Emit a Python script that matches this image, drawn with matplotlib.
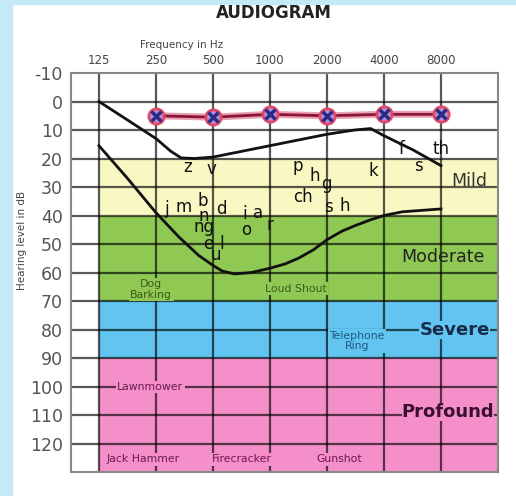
import matplotlib.pyplot as plt
from matplotlib.patches import Rectangle
from matplotlib.ticker import NullLocator

# audiogram axes
freqs = [125, 250, 500, 1000, 2000, 4000, 8000]
freq_labels = ['125', '250', '500', '1000', '2000', '4000', '8000']
db_ticks = [-10, 0, 10, 20, 30, 40, 50, 60, 70, 80, 90, 100, 110, 120]

# hearing loss bands
band_names = ['Mild', 'Moderate', 'Severe', 'Profound']
band_low = [20, 40, 70, 90]
band_high = [40, 70, 90, 130]
band_colors = ['#f9f8c2', '#8fc853', '#62c5f1', '#f58fca']

# measured thresholds
thr_freqs = [250, 500, 1000, 2000, 4000, 8000]
thr_db = [5, 5.5, 4.5, 5, 4.5, 4.5]

# speech banana outline
upper_freqs = [125, 177, 250, 300, 340, 400, 500, 1000, 2000, 2800, 3400, 4000, 5700, 8000]
upper_db = [0, 6.5, 13, 17.5, 19.8, 20, 19.5, 15.5, 11.5, 10, 9.5, 12, 17, 22.5]
lower_freqs = [125, 177, 250, 330, 420, 500, 560, 650, 800, 1000, 1200, 1414, 1700, 2000,
               2400, 2828, 3400, 4000, 5000, 8000]
lower_db = [15.5, 27, 39, 47.5, 54, 57.5, 59.5, 60.5, 60, 58.5, 57, 55, 52, 48.5,
            45.5, 43.5, 41.5, 40, 38.7, 37.7]

# speech sounds
sounds = ['z', 'v', 'j', 'm', 'b', 'n', 'd', 'ng', 'e', 'l', 'u', 'i', 'a', 'o', 'r',
          'p', 'h', 'g', 'ch', 's', 'h', 'k', 'f', 's', 'th']
sound_freq = [368, 490, 285, 351, 441, 447, 555, 450, 470, 555, 521, 737, 865, 753, 1000,
              1395, 1717, 1988, 1495, 2028, 2480, 3508, 4960, 6063, 8000]
sound_db = [22.9, 23.7, 37.7, 37.1, 34.8, 40, 37.7, 44.1, 50, 50, 54, 39.4, 39.2, 45, 43.5,
            22.7, 26, 29, 33.4, 37.1, 36.5, 24.3, 16.7, 22.5, 16.7]

# everyday noises
noises = ['Dog\nBarking', 'Loud Shout', 'Telephone\nRing', 'Lawnmower',
          'Jack Hammer', 'Firecracker', 'Gunshot']
noise_freq = [236, 1375, 2870, 233, 213, 707, 2330]
noise_db = [66, 65.7, 84, 100.2, 125.6, 125.6, 125.6]
noise_band = [1, 1, 2, 3, 3, 3, 3]
noise_colors = ['#3d5a1c', '#3d5a1c', '#1c5a7c', '#6a1a50', '#6a1a50', '#6a1a50', '#6a1a50']

fig = plt.figure(figsize=(5.16, 4.96), dpi=100)
fig.patches.append(Rectangle((0, 0), 12 / 516, 1, transform=fig.transFigure,
                             color='#c6e9fa', zorder=0))
fig.patches.append(Rectangle((0, 1 - 4 / 496), 1, 4 / 496, transform=fig.transFigure,
                             color='#c6e9fa', zorder=0))

ax = fig.add_axes([71 / 516, 1 - 472 / 496, 427 / 516, 399 / 496])
ax.set_xscale('log', base=2)
ax.set_xlim(125 * 2 ** -0.49, 16000)
ax.set_ylim(130, -10)

for lo, hi, c in zip(band_low, band_high, band_colors):
    ax.fill_between([125, 16000], lo, hi, color=c, lw=0, zorder=1)

for d in db_ticks[1:]:
    ax.axhline(d, color='black', alpha=0.65, lw=1.6, zorder=2)
for f in freqs:
    ax.axvline(f, color='black', alpha=0.65, lw=1.6, zorder=2)

ax.set_xticks(freqs)
ax.set_xticklabels(freq_labels)
ax.xaxis.set_minor_locator(NullLocator())
ax.xaxis.tick_top()
ax.tick_params(axis='x', length=0, pad=4, labelsize=8.5, labelcolor='#444')
ax.set_yticks(db_ticks)
ax.set_yticklabels([str(d) for d in db_ticks])
ax.tick_params(axis='y', length=0, pad=6, labelsize=12.5, labelcolor='#555')
for s in ax.spines.values():
    s.set_color('#888')
    s.set_linewidth(1.5)

# band names
ax.text(2 ** 6.5 * 125, 28, 'Mild', ha='center', va='center', fontsize=12.5, color='#333', zorder=3)
ax.text(2 ** 6.04 * 125, 54.6, 'Moderate', ha='center', va='center', fontsize=12.5, color='#222', zorder=3)
ax.text(2 ** 6.24 * 125, 80, 'Severe', ha='center', va='center', fontsize=13, weight='bold',
        color='#1a2a4a', zorder=3, bbox=dict(facecolor=band_colors[2], edgecolor='none', pad=0))
ax.text(2 ** 6.12 * 125, 109, 'Profound', ha='center', va='center', fontsize=13, weight='bold',
        color='#3a1030', zorder=3, bbox=dict(facecolor=band_colors[3], edgecolor='none', pad=0))

for name, f, d, b, c in zip(noises, noise_freq, noise_db, noise_band, noise_colors):
    ax.text(f, d, name, ha='center', va='center', fontsize=7.8, color=c, zorder=3,
            linespacing=1.1, bbox=dict(facecolor=band_colors[b], edgecolor='none', pad=1))

ax.plot(upper_freqs, upper_db, color='#111', lw=2, zorder=4)
ax.plot(lower_freqs, lower_db, color='#111', lw=2, zorder=4)

for s, f, d in zip(sounds, sound_freq, sound_db):
    ax.text(f, d, s, ha='center', va='center', fontsize=12, color='#111', zorder=5)

ax.plot(thr_freqs, thr_db, color='#eaa0b4', lw=5, zorder=6)
ax.plot(thr_freqs, thr_db, color='#8b1538', lw=2, zorder=7)
ax.plot(thr_freqs, thr_db, 'o', ms=11, mfc='#b890d0', mec='#e04868', mew=2, zorder=8)
ax.plot(thr_freqs, thr_db, 'x', ms=6.5, mew=2.5, color='#2a2a8a', zorder=9)

fig.text(274 / 516, 1 - 13 / 496, 'AUDIOGRAM', ha='center', va='center', fontsize=12,
         weight='bold', color='#222')
fig.text(182 / 516, 1 - 45 / 496, 'Frequency in Hz', ha='center', va='center', fontsize=7.5,
         color='#444')
fig.text(22 / 516, 1 - 240 / 496, 'Hearing level in dB', ha='center', va='center', fontsize=7.5,
         rotation=90, color='#444')

fig.savefig('out.png', dpi=100)
